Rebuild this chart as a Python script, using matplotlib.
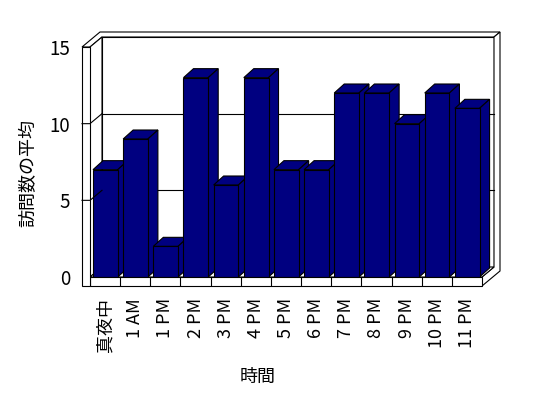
import matplotlib
matplotlib.use("Agg")
import matplotlib.pyplot as plt
from matplotlib.patches import Polygon

plt.rcParams['font.family'] = ['Noto Sans CJK JP', 'DejaVu Sans']

# データ
categories = ["真夜中", "1 AM", "1 PM", "2 PM", "3 PM", "4 PM", "5 PM",
              "6 PM", "7 PM", "8 PM", "9 PM", "10 PM", "11 PM"]
visits = [7, 9, 2, 13, 6, 13, 7, 7, 12, 12, 10, 12, 11]
y_ticks = [0, 5, 10, 15]
grid_values = [5, 10]
y_max = 15

NAVY = "#000080"
LW = 0.8

W, H = 548, 398
fig = plt.figure(figsize=(W / 100, H / 100), dpi=100)
fig.patch.set_facecolor("white")

# 前面の描画領域 (px)
ax = fig.add_axes([90 / W, 1 - 277 / H, 392 / W, 230 / H])
n = len(categories)
ax.set_xlim(0, n)
ax.set_ylim(0, y_max)
ax.patch.set_visible(False)
for s in ax.spines.values():
    s.set_visible(False)

px_x = 392 / n
px_y = 230 / y_max


def px(dx, dy):
    return dx / px_x, dy / px_y


DX, DY = px(12, 10)      # 奥行き
TX, TY = px(6, 5)        # 背面の厚み
WALL = 8 / px_x          # 左壁の厚み
FLOOR = 9 / px_y         # 床の厚み
BX, BY = px(10, 9)       # 棒の奥行き
BAR_OFF, BAR_W = 0.1, 0.82


def face(pts, z, fc="white"):
    ax.add_patch(Polygon(pts, closed=True, facecolor=fc, edgecolor="black",
                         lw=LW, zorder=z, clip_on=False))


# 背面・上面・右側面
face([(DX, DY), (n + DX, DY), (n + DX, y_max + DY), (DX, y_max + DY)], 1)
face([(-WALL, y_max), (0, y_max), (DX, y_max + DY), (n + DX, y_max + DY),
      (n + DX + TX, y_max + DY + TY), (-WALL + DX + TX, y_max + DY + TY)], 2)
face([(n, -FLOOR), (n, 0), (n + DX, DY), (n + DX, y_max + DY),
      (n + DX + TX, y_max + DY + TY), (n + DX + TX, -FLOOR + DY + TY)], 2)
# 左壁の内側、床
face([(0, 0), (DX, DY), (DX, y_max + DY), (0, y_max)], 2)
face([(0, 0), (n, 0), (n + DX, DY), (DX, DY)], 2)

# 目盛線
for v in grid_values:
    ax.plot([DX, n + DX], [v + DY, v + DY], color="black", lw=LW, zorder=3,
            clip_on=False)
    ax.plot([-WALL, 0, DX], [v, v, v + DY], color="black", lw=LW, zorder=31,
            clip_on=False)

# 棒
x_left = [i + BAR_OFF for i in range(n)]
bars = ax.bar(x_left, visits, width=BAR_W, align="edge", color=NAVY,
              edgecolor="black", lw=LW)
for i, (b, x0, v) in enumerate(zip(bars, x_left, visits)):
    z = 10 + i
    b.set_zorder(z + 0.5)
    x1 = x0 + BAR_W
    face([(x0, v), (x1, v), (x1 + BX, v + BY), (x0 + BX, v + BY)], z, NAVY)
    face([(x1, 0), (x1 + BX, BY), (x1 + BX, v + BY), (x1, v)], z, NAVY)

# 床の前面、左壁の前面
face([(0, -FLOOR), (n, -FLOOR), (n, 0), (0, 0)], 30)
ax.vlines(range(1, n), -FLOOR, 0, color="black", lw=LW, zorder=31,
          clip_on=False)
face([(-WALL, -FLOOR), (0, -FLOOR), (0, y_max), (-WALL, y_max)], 30)

# 軸ラベル
ax.set_yticks(y_ticks)
ax.set_yticklabels([str(t) for t in y_ticks], fontsize=13.5)
ax.set_xticks([i + 0.5 for i in range(n)])
ax.set_xticklabels(categories, rotation=90, fontsize=13)
ax.tick_params(axis="y", length=0, pad=14.4)
ax.tick_params(axis="x", length=0, pad=15)

fig.text(28 / W, 1 - 173 / H, "訪問数の平均", rotation=90, ha="center",
         va="center", fontsize=13)
fig.text(258 / W, 1 - 377 / H, "時間", ha="center", va="center",
         fontsize=13)

fig.savefig("out.png", dpi=100, facecolor="white")
